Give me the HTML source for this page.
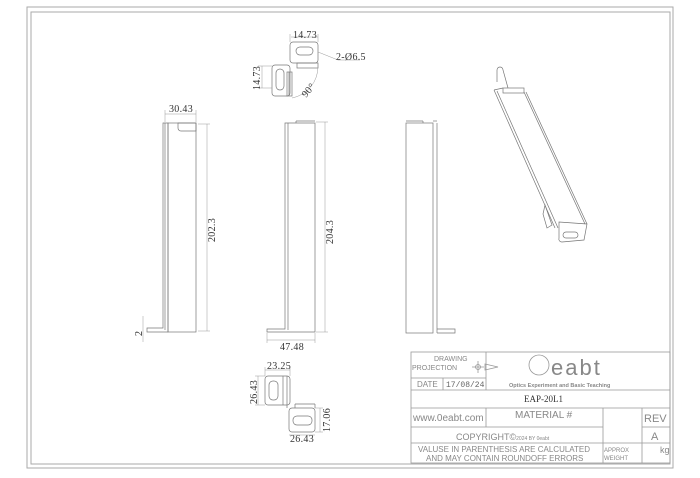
<!DOCTYPE html>
<html><head><meta charset="utf-8"><style>
html,body{margin:0;padding:0;background:#fff;}
svg{display:block;}
.l{stroke:#777;stroke-width:0.7;fill:none;}
.d{stroke:#999;stroke-width:0.5;fill:none;}
.t{font-family:"Liberation Serif",serif;font-size:10px;fill:#333;letter-spacing:0.3px;}
.s{font-family:"Liberation Sans",sans-serif;fill:#888;}
</style></head><body>
<svg width="700" height="478" viewBox="0 0 700 478" xmlns="http://www.w3.org/2000/svg">
<rect x="27" y="7" width="646" height="461" fill="none" stroke="#aaa" stroke-width="1"/>
<rect x="31" y="12" width="639" height="452" fill="none" stroke="#aaa" stroke-width="1"/>

<!-- Top view -->
<g class="l">
<rect x="290" y="42" width="28" height="21" rx="3"/>
<rect x="296" y="47" width="17" height="8" rx="4"/>
<rect x="297" y="63" width="21" height="5"/>
<rect x="272" y="65" width="18" height="31" rx="3"/>
<rect x="276" y="69" width="8" height="21" rx="4"/>
<rect x="287" y="72" width="5" height="24"/>
<line x1="289" y1="72" x2="289" y2="96"/>
</g>
<g class="d">
<path d="M318 66 A32 32 0 0 1 292 98"/>
<line x1="291" y1="37" x2="318" y2="37"/><line x1="290" y1="34" x2="290" y2="42"/><line x1="318" y1="34" x2="318" y2="42"/>
<line x1="318" y1="52" x2="338" y2="60"/><line x1="338" y1="60" x2="360" y2="60"/>
<line x1="262" y1="66" x2="262" y2="88"/><line x1="258" y1="66" x2="272" y2="66"/><line x1="258" y1="88" x2="272" y2="88"/>
</g>
<text class="t" x="293" y="38">14.73</text>
<text class="t" x="336" y="60">2-Ø6.5</text>
<text class="t" transform="translate(260,90) rotate(-90)">14.73</text>
<text class="t" transform="translate(306,98) rotate(-50)">90°</text>

<!-- Left view -->
<g class="l">
<path d="M163 123 L163 328 L147 328 L147 332 L168 332 L168 123 Z"/>
<line x1="165" y1="123" x2="165" y2="330"/>
<rect x="168" y="123" width="28" height="209"/>
<path d="M178 123 L196 123 L196 131 L181 131 A3 3 0 0 1 178 128 Z"/>
</g>
<g class="d">
<line x1="165" y1="114" x2="196" y2="114"/><line x1="165" y1="110" x2="165" y2="122"/><line x1="196" y1="110" x2="196" y2="122"/>
<line x1="207" y1="124" x2="207" y2="331"/><line x1="198" y1="124" x2="210" y2="124"/><line x1="198" y1="331" x2="210" y2="331"/>
<line x1="143" y1="316" x2="143" y2="342"/>
</g>
<text class="t" x="169" y="112">30.43</text>
<text class="t" transform="translate(215,242) rotate(-90)">202.3</text>
<text class="t" transform="translate(142,336) rotate(-90)">2</text>

<!-- Middle view -->
<g class="l">
<path d="M285 123 L285 329 L267 329 L267 332 L315 332 L315 123 Z"/>
<line x1="288" y1="123" x2="288" y2="330"/>
<line x1="296" y1="121" x2="315" y2="121"/><line x1="296" y1="121" x2="296" y2="123"/>
</g>
<g class="d">
<line x1="325" y1="122" x2="325" y2="332"/><line x1="316" y1="122" x2="328" y2="122"/><line x1="316" y1="332" x2="328" y2="332"/>
<line x1="267" y1="340" x2="315" y2="340"/><line x1="267" y1="333" x2="267" y2="343"/><line x1="315" y1="333" x2="315" y2="343"/>
</g>
<text class="t" transform="translate(333,244) rotate(-90)">204.3</text>
<text class="t" x="280" y="350">47.48</text>

<!-- Right view -->
<g class="l">
<rect x="406" y="123" width="27" height="210"/>
<line x1="437" y1="123" x2="437" y2="333"/>
<path d="M437 329 L455 329 L455 333 L437 333"/>
<line x1="406" y1="121" x2="423" y2="121"/><line x1="423" y1="121" x2="423" y2="123"/>
<line x1="433" y1="121" x2="437" y2="121"/>
</g>

<!-- Iso -->
<g class="l">
<path d="M497 82 L497 70 A3 3 0 0 1 503 70 L508 88"/>
<line x1="494" y1="90" x2="555" y2="228"/>
<line x1="497" y1="91" x2="558" y2="228"/>
<line x1="524" y1="92" x2="585" y2="224"/>
<line x1="526" y1="92" x2="587" y2="224"/>
<rect x="503" y="88" width="21" height="5"/>
<path d="M494 90 L503 88"/>
<path d="M545 205 L552 225 L547 228 L543 214 Z"/>
<path d="M559 222 L587 224 L584 240 L562 242 A3 3 0 0 1 559 238 Z"/>
<rect x="563" y="232" width="15" height="6" rx="3"/>
</g>

<!-- Bottom view -->
<g class="l">
<rect x="265" y="376" width="25" height="29" rx="3"/>
<rect x="269" y="381" width="9" height="19" rx="4"/>
<line x1="283" y1="376" x2="283" y2="405"/><line x1="287" y1="376" x2="287" y2="408"/>
<rect x="289" y="408" width="26" height="24" rx="3"/>
<rect x="293" y="416" width="19" height="9" rx="4"/>
<line x1="295" y1="408" x2="295" y2="404"/><line x1="295" y1="404" x2="315" y2="404"/><line x1="315" y1="404" x2="315" y2="408"/>
</g>
<g class="d">
<line x1="265" y1="370" x2="290" y2="370"/><line x1="265" y1="367" x2="265" y2="376"/><line x1="290" y1="367" x2="290" y2="376"/>
<line x1="258" y1="376" x2="258" y2="405"/><line x1="255" y1="376" x2="265" y2="376"/><line x1="255" y1="405" x2="265" y2="405"/>
<line x1="320" y1="408" x2="320" y2="432"/><line x1="315" y1="408" x2="323" y2="408"/><line x1="315" y1="432" x2="323" y2="432"/>
<line x1="289" y1="435" x2="315" y2="435"/>
</g>
<text class="t" x="267" y="369">23.25</text>
<text class="t" transform="translate(257,404) rotate(-90)">26.43</text>
<text class="t" transform="translate(330,432) rotate(-90)">17.06</text>
<text class="t" x="290" y="442">26.43</text>

<!-- Title block -->
<g stroke="#999" stroke-width="0.8" fill="none">
<rect x="411" y="352" width="259" height="111"/>
<line x1="486" y1="352" x2="486" y2="390"/>
<line x1="411" y1="378" x2="486" y2="378"/>
<line x1="443" y1="378" x2="443" y2="390"/>
<line x1="411" y1="390" x2="670" y2="390"/>
<line x1="411" y1="408" x2="670" y2="408"/>
<line x1="411" y1="427" x2="603" y2="427"/>
<line x1="642" y1="427" x2="670" y2="427"/>
<line x1="411" y1="443" x2="670" y2="443"/>
<line x1="486" y1="408" x2="486" y2="427"/>
<line x1="603" y1="408" x2="603" y2="463"/>
<line x1="642" y1="408" x2="642" y2="463"/>
<circle cx="478" cy="367" r="2.5"/>
<path d="M472 367 L484 367 M478 361 L478 373 M485 364 L485 370 L498 367 Z"/>
<circle cx="539" cy="365" r="10"/>
</g>
<text class="s" x="434" y="361" font-size="7">DRAWING</text>
<text class="s" x="412" y="370" font-size="7">PROJECTION</text>
<text class="s" x="417" y="387" font-size="8">DATE</text>
<text x="446" y="387" font-family="Liberation Mono,monospace" font-size="8" fill="#666">17/08/24</text>
<text class="s" x="551" y="375" font-size="22" fill="#aaa" letter-spacing="2">eabt</text>
<text class="s" x="509" y="387" font-size="5.5" font-weight="bold" fill="#555">Optics Experiment and Basic Teaching</text>
<text x="524" y="402" font-family="Liberation Serif,serif" font-size="9" fill="#333">EAP-20L1</text>
<text class="s" x="413" y="421" font-size="10">www.0eabt.com</text>
<text class="s" x="515" y="418" font-size="10">MATERIAL #</text>
<text class="s" x="644" y="422" font-size="11">REV</text>
<text class="s" x="651" y="440" font-size="11">A</text>
<text class="s" x="456" y="440" font-size="9">COPYRIGHT©<tspan font-size="5">2024 BY 0eabt</tspan></text>
<text class="s" x="418" y="452" font-size="8">VALUSE IN PARENTHESIS ARE CALCULATED</text>
<text class="s" x="426" y="461" font-size="8">AND MAY CONTAIN ROUNDOFF ERRORS</text>
<text class="s" x="604" y="452" font-size="6">APPROX</text>
<text class="s" x="604" y="460" font-size="6">WEIGHT</text>
<text class="s" x="660" y="453" font-size="9">kg</text>
</svg>
</body></html>
